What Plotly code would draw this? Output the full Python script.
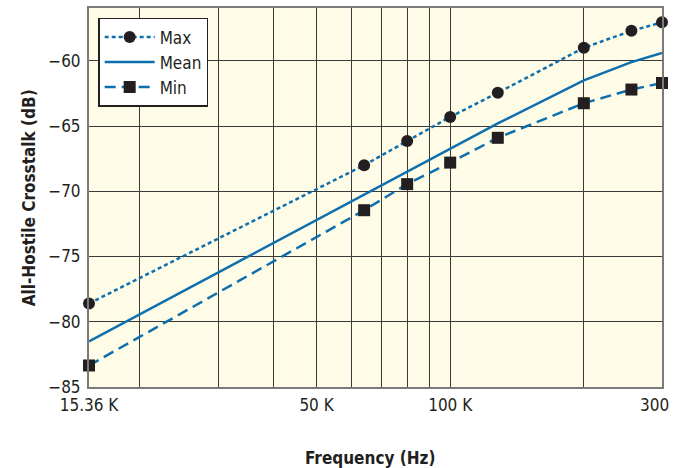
import plotly.graph_objects as go

freq = [15360, 64000, 80000, 100000, 128000, 200000, 256000, 300000]
max_db = [-78.6, -68.0, -66.15, -64.3, -62.45, -59.0, -57.7, -57.05]
mean_db = [-81.5, -70.25, -68.45, -66.75, -64.8, -61.5, -60.1, -59.4]
min_db = [-83.35, -71.45, -69.45, -67.8, -65.9, -63.25, -62.2, -61.7]

x_grid = [15360, 20000, 30000, 40000, 50000, 60000, 70000, 80000, 90000, 100000, 200000, 300000]
x_labels = ["15.36 K", "", "", "", "50 K", "", "", "", "", "100 K", "", "300 K"]
y_ticks = [-85, -80, -75, -70, -65, -60]
y_labels = ["\u221285", "\u221280", "\u221275", "\u221270", "\u221265", "\u221260"]

BLUE = "#0E6FAE"
MARK = "#231F20"
FONT = "DejaVu Sans Condensed, Roboto Condensed, Liberation Sans Narrow, Liberation Sans, sans-serif"

fig = go.Figure()
fig.add_trace(go.Scatter(
    x=freq, y=max_db, name="Max", mode="lines+markers", legendgroup="a",
    line=dict(color=BLUE, width=2.5, dash="4px,3px"),
    marker=dict(symbol="circle", size=12, color=MARK), cliponaxis=False))
fig.add_trace(go.Scatter(
    x=freq, y=mean_db, name="Mean", mode="lines", legendgroup="b",
    line=dict(color=BLUE, width=2.5), cliponaxis=False))
fig.add_trace(go.Scatter(
    x=freq, y=min_db, name="Min", mode="lines+markers", legendgroup="c",
    line=dict(color=BLUE, width=2.5, dash="11px,6px"),
    marker=dict(symbol="square", size=12, color=MARK), cliponaxis=False))

fig.update_layout(
    width=674, height=468,
    margin=dict(l=89, r=12, t=8, b=81, autoexpand=False),
    paper_bgcolor="white",
    plot_bgcolor="#FEFBE6",
    font=dict(family=FONT, size=16, color="#231F20"),
    legend=dict(
        x=0.016, y=0.974, xanchor="left", yanchor="top",
        bgcolor="white", bordercolor="#231F20", borderwidth=1.5,
        font=dict(family=FONT, size=17), tracegroupgap=0,
        itemwidth=50,
    ),
    annotations=[
        dict(text="<b>Frequency (Hz)</b>", xref="paper", yref="paper",
             x=0.49, y=-0.155, xanchor="center", yanchor="top", showarrow=False,
             font=dict(family=FONT, size=17)),
        dict(text="<b>All-Hostile Crosstalk (dB)</b>", xref="paper", yref="paper",
             x=-0.105, y=0.5, xanchor="center", yanchor="middle", showarrow=False,
             textangle=-90, font=dict(family=FONT, size=17)),
    ],
)
fig.update_xaxes(
    type="log", range=[4.18639, 5.47713], automargin=False,
    tickvals=x_grid, ticktext=x_labels, ticks="",
    showgrid=True, gridcolor="#3A3A3A", gridwidth=1.2,
    showline=True, linecolor="#7A7A7A", linewidth=2, mirror=True,
    ticklabeloverflow="allow", ticklabelstandoff=2,
    tickfont=dict(family=FONT, size=17),
)
fig.update_yaxes(
    range=[-85, -55.95], automargin=False,
    tickvals=y_ticks, ticktext=y_labels, ticks="",
    showgrid=True, gridcolor="#3A3A3A", gridwidth=1.2,
    showline=True, linecolor="#7A7A7A", linewidth=2, mirror=True,
    zeroline=False, ticklabelstandoff=3,
    tickfont=dict(family=FONT, size=17),
)

fig.write_html("out.html", config={"displayModeBar": False},
               post_script="document.body.style.margin='0';document.body.style.overflow='hidden';")
